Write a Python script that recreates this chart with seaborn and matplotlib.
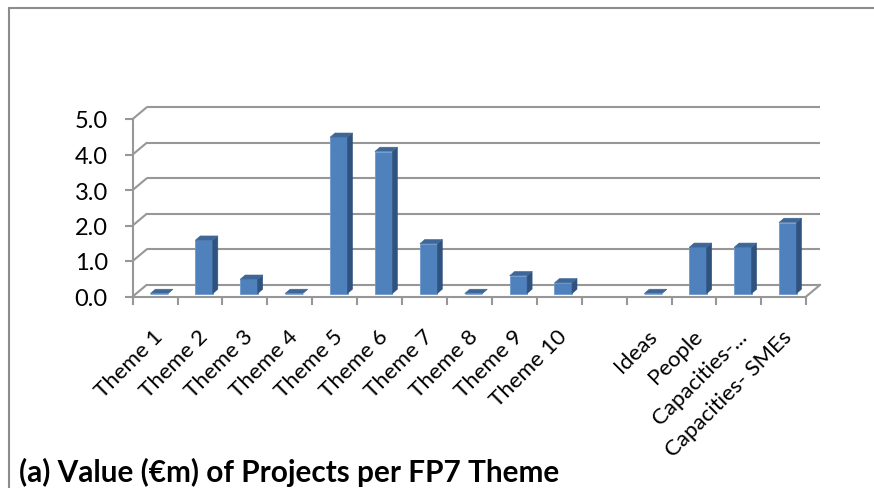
import numpy as np
import pandas as pd
import matplotlib
matplotlib.use("Agg")
import matplotlib.pyplot as plt
import matplotlib.transforms as mtransforms
from matplotlib.patches import Polygon
from matplotlib.lines import Line2D
import seaborn as sns

# ---- data ----
categories = ["Theme 1", "Theme 2", "Theme 3", "Theme 4", "Theme 5", "Theme 6",
              "Theme 7", "Theme 8", "Theme 9", "Theme 10", " ", "Ideas", "People",
              "Capacities-...", "Capacities- SMEs"]
values = [0.0, 1.5, 0.4, 0.0, 4.4, 4.0, 1.4, 0.0, 0.5, 0.3, np.nan, 0.0, 1.3, 1.3, 2.0]
y_ticks = [0, 1, 2, 3, 4, 5]
y_tick_labels = ["0.0", "1.0", "2.0", "3.0", "4.0", "5.0"]
title = "(a) Value (€m) of Projects per FP7 Theme"

df = pd.DataFrame({"theme": categories, "value": values}).dropna()

sns.set_theme(style="white")
plt.rcParams["font.family"] = ["Lato", "DejaVu Sans"]

W, H = 874, 489
fig = plt.figure(figsize=(W / 100, H / 100), dpi=100)
fig.patch.set_facecolor("white")

# front plane of the pseudo-3D plot (pixel coordinates from top-left)
fx0, fx1 = 132.7, 806.2
fy0, fy1 = 297.5, 120.0
ax = fig.add_axes([fx0 / W, (H - fy0) / H, (fx1 - fx0) / W, (fy0 - fy1) / H])
ax.patch.set_alpha(0)

FRONT = "#4F81BD"
SIDE = "#30527F"
TOP = "#3E6798"
GRID = "#979797"

sns.barplot(data=df, x="theme", y="value", order=categories, color=FRONT,
            width=0.39, saturation=1, ax=ax, zorder=3, edgecolor="#6E98CC",
            linewidth=0.6)
ax.set_xlim(-0.5, len(categories) - 0.5)
ax.set_ylim(0, 5)
ax.set_xlabel("")
ax.set_ylabel("")

# depth offsets (display pixels)
BACK_DX, BACK_DY = 14.0, 11.7
BAR_DX, BAR_DY = 4.0, 3.0
SIDE_DX, SIDE_DY = 5.0, 4.3

ident = mtransforms.IdentityTransform()
shift = mtransforms.Affine2D().translate(BAR_DX, BAR_DY)
for p in list(ax.patches):
    x, w, h = p.get_x(), p.get_width(), p.get_height()
    if np.isnan(h):
        continue
    p.set_transform(ax.transData + shift)
    p.set_clip_on(False)
    (xl, yb), (xr, yt) = ax.transData.transform([(x, 0), (x + w, h)])
    xl += BAR_DX; xr += BAR_DX; yb += BAR_DY; yt += BAR_DY
    side = Polygon([(xr, yb), (xr, yt), (xr + SIDE_DX, yt + SIDE_DY), (xr + SIDE_DX, yb + SIDE_DY)],
                   closed=True, facecolor=SIDE, edgecolor=SIDE, lw=0.4,
                   transform=ident, clip_on=False, zorder=3)
    top = Polygon([(xl, yt), (xr, yt), (xr + SIDE_DX, yt + SIDE_DY), (xl + SIDE_DX, yt + SIDE_DY)],
                  closed=True, facecolor=TOP, edgecolor=TOP, lw=0.4,
                  transform=ident, clip_on=False, zorder=3)
    ax.add_patch(side)
    ax.add_patch(top)

# back-wall gridlines and left-wall diagonals
back = ax.transData + mtransforms.Affine2D().translate(BACK_DX, BACK_DY)
xmin, xmax = ax.get_xlim()
for v in y_ticks:
    ax.plot([xmin, xmax], [v, v], color=GRID, lw=1.5, transform=back,
            clip_on=False, zorder=1, solid_capstyle="butt")
    px, py = ax.transData.transform((xmin, v))
    ax.plot([px, px + BACK_DX], [py, py + BACK_DY], color=GRID, lw=1.5,
            transform=ident, clip_on=False, zorder=1)
# right floor edge diagonal
px, py = ax.transData.transform((xmax, 0))
ax.plot([px, px + BACK_DX], [py, py + BACK_DY], color=GRID, lw=1.5,
        transform=ident, clip_on=False, zorder=1)

# spines
for s in ["top", "right"]:
    ax.spines[s].set_visible(False)
for s in ["left", "bottom"]:
    ax.spines[s].set_color(GRID)
    ax.spines[s].set_linewidth(1.5)

# y axis
ax.set_yticks(y_ticks, y_tick_labels)
ax.tick_params(axis="y", left=True, length=6, width=1.5, color=GRID,
               labelsize=17, pad=12, labelcolor="black")

# x axis: labels at centres, tick marks at boundaries
ax.set_xticks(range(len(categories)), categories)
ax.set_xticks(np.arange(-0.5, len(categories), 1.0), minor=True)
ax.tick_params(axis="x", which="major", bottom=False, length=0, pad=21,
               labelsize=16, labelcolor="black")
ax.tick_params(axis="x", which="minor", bottom=True, length=5.5, width=1.5,
               color=GRID)
lab_off = mtransforms.ScaledTranslation(-1.5 / 72, 0, fig.dpi_scale_trans)
for lab in ax.get_xticklabels():
    lab.set_rotation(45)
    lab.set_ha("right")
    lab.set_va("top")
    lab.set_rotation_mode("anchor")
    lab.set_transform(lab.get_transform() + lab_off)

# outer frame (top and left edges)
fig.add_artist(Line2D([9 / W, 1.0], [(H - 9) / H, (H - 9) / H], color="#8C8C8C",
                      lw=1.5, transform=fig.transFigure))
fig.add_artist(Line2D([9 / W, 9 / W], [0, (H - 9) / H], color="#8C8C8C",
                      lw=1.5, transform=fig.transFigure))

fig.text(19 / W, (H - 482) / H, title, fontsize=21.4, fontweight="bold",
         ha="left", va="baseline", color="black")

fig.savefig("out.png", dpi=100)
